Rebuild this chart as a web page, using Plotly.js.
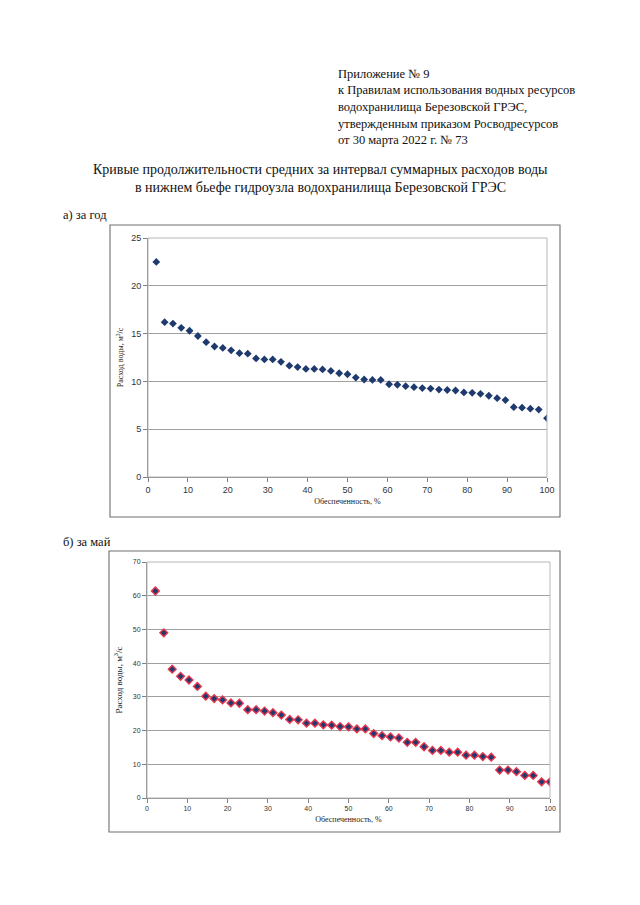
<!DOCTYPE html>
<html>
<head>
<meta charset="utf-8">
<script src="https://cdn.plot.ly/plotly-3.0.1.min.js"></script>
<style>
html,body{margin:0;padding:0;background:#fff;}
#chart{width:640px;height:905px;}
</style>
</head>
<body>
<div id="chart"></div>
<script>
// Обеспеченность, % (48 членов ряда)
const probability = [2.08, 4.17, 6.25, 8.33, 10.42, 12.5, 14.58, 16.67, 18.75, 20.83, 22.92, 25.0,
  27.08, 29.17, 31.25, 33.33, 35.42, 37.5, 39.58, 41.67, 43.75, 45.83, 47.92, 50.0,
  52.08, 54.17, 56.25, 58.33, 60.42, 62.5, 64.58, 66.67, 68.75, 70.83, 72.92, 75.0,
  77.08, 79.17, 81.25, 83.33, 85.42, 87.5, 89.58, 91.67, 93.75, 95.83, 97.92, 100.0];

// а) за год, м3/с
const flowYear = [22.5, 16.2, 16.05, 15.6, 15.3, 14.75, 14.1, 13.65, 13.5, 13.25, 12.95, 12.9,
  12.4, 12.3, 12.3, 12.05, 11.65, 11.5, 11.3, 11.3, 11.25, 11.1, 10.85, 10.75,
  10.4, 10.2, 10.15, 10.15, 9.7, 9.65, 9.5, 9.4, 9.3, 9.25, 9.15, 9.1,
  9.05, 8.85, 8.8, 8.7, 8.5, 8.25, 8.05, 7.3, 7.25, 7.15, 7.05, 6.15];

// б) за май, м3/с
const flowMay = [61.4, 49.0, 38.2, 36.1, 35.0, 33.1, 30.2, 29.5, 29.1, 28.2, 28.1, 26.2,
  26.2, 25.8, 25.3, 24.6, 23.3, 23.2, 22.2, 22.2, 21.7, 21.6, 21.2, 21.1,
  20.5, 20.5, 19.1, 18.5, 18.1, 17.8, 16.5, 16.5, 15.2, 14.1, 14.1, 13.6,
  13.6, 12.7, 12.7, 12.3, 12.1, 8.3, 8.3, 7.8, 6.7, 6.7, 4.8, 4.8];

const headerLines = [
  "Приложение № 9",
  "к Правилам использования водных ресурсов",
  "водохранилища Березовской ГРЭС,",
  "утвержденным приказом Росводресурсов",
  "от 30 марта 2022 г. № 73"
];
const titleLines = [
  "Кривые продолжительности средних за интервал суммарных расходов воды",
  "в нижнем бьефе гидроузла водохранилища Березовской ГРЭС"
];
const labelA = "а) за год";
const labelB = "б) за май";
const xTitle = "Обеспеченность, %";
const yTitle = "Расход воды, м<sup>3</sup>/с";

const W = 640, H = 905;
const px = x => x / W;
const py = y => 1 - y / H;

const serif = "Liberation Serif, Times New Roman, serif";
const sans = "Liberation Sans, Arial, sans-serif";

const traces = [
  {
    x: probability, y: flowYear, type: 'scatter', mode: 'markers',
    xaxis: 'x', yaxis: 'y',
    marker: {symbol: 'diamond', size: 6, color: '#1f3a6e', line: {width: 0}},
    hoverinfo: 'x+y'
  },
  {
    x: probability, y: flowMay, type: 'scatter', mode: 'markers',
    xaxis: 'x2', yaxis: 'y2',
    marker: {symbol: 'diamond', size: 6, color: '#1f3a6e', line: {width: 1.4, color: '#e8364e'}},
    hoverinfo: 'x+y'
  }
];

const annotations = [];
headerLines.forEach((t, i) => {
  annotations.push({text: t, xref: 'paper', yref: 'paper', x: px(336), y: py(74 + i * 16.5),
    xanchor: 'left', yanchor: 'middle', showarrow: false, font: {family: serif, size: 12.5, color: '#111'}});
});
titleLines.forEach((t, i) => {
  annotations.push({text: t, xref: 'paper', yref: 'paper', x: px(320), y: py(170 + i * 18),
    xanchor: 'center', yanchor: 'middle', showarrow: false, font: {family: serif, size: 14, color: '#111'}});
});
annotations.push({text: labelA, xref: 'paper', yref: 'paper', x: px(61), y: py(215),
  xanchor: 'left', yanchor: 'middle', showarrow: false, font: {family: serif, size: 12.5, color: '#111'}});
annotations.push({text: labelB, xref: 'paper', yref: 'paper', x: px(61), y: py(542),
  xanchor: 'left', yanchor: 'middle', showarrow: false, font: {family: serif, size: 12.5, color: '#111'}});

const shapes = [
  // outer chart frames
  {type: 'rect', xref: 'paper', yref: 'paper', x0: px(110), x1: px(560), y0: py(517), y1: py(225),
    line: {color: '#6e6e6e', width: 1.1}},
  {type: 'rect', xref: 'paper', yref: 'paper', x0: px(109), x1: px(560), y0: py(832), y1: py(551),
    line: {color: '#6e6e6e', width: 1.1}},
  // plot-area borders
  {type: 'rect', xref: 'x domain', yref: 'y domain', x0: 0, x1: 1, y0: 0, y1: 1,
    line: {color: '#b8b8b8', width: 1}},
  {type: 'rect', xref: 'x2 domain', yref: 'y2 domain', x0: 0, x1: 1, y0: 0, y1: 1,
    line: {color: '#b8b8b8', width: 1}}
];

const axisCommon = {
  showline: true, linecolor: '#808080', linewidth: 1,
  ticks: 'outside', ticklen: 4, tickcolor: '#808080',
  zeroline: false, fixedrange: true
};

const layout = {
  width: W, height: H,
  margin: {l: 0, r: 0, t: 0, b: 0},
  paper_bgcolor: '#fff', plot_bgcolor: '#fff',
  showlegend: false,
  font: {family: serif, color: '#111'},
  xaxis: Object.assign({}, axisCommon, {
    domain: [px(148), px(547)], anchor: 'y', range: [0, 100], dtick: 10,
    showgrid: false, tickfont: {family: sans, size: 9, color: '#333'},
    title: {text: xTitle, font: {family: serif, size: 8, color: '#222'}, standoff: 4}
  }),
  yaxis: Object.assign({}, axisCommon, {
    domain: [py(477), py(238)], anchor: 'x', range: [0, 25], dtick: 5,
    showgrid: true, gridcolor: '#a0a0a0', gridwidth: 1,
    tickfont: {family: sans, size: 9, color: '#333'},
    title: {text: yTitle, font: {family: serif, size: 8, color: '#222'}, standoff: 6}
  }),
  xaxis2: Object.assign({}, axisCommon, {
    domain: [px(147), px(550)], anchor: 'y2', range: [0, 100], dtick: 10,
    showgrid: false, tickfont: {family: sans, size: 7, color: '#333'},
    title: {text: xTitle, font: {family: serif, size: 8, color: '#222'}, standoff: 4}
  }),
  yaxis2: Object.assign({}, axisCommon, {
    domain: [py(798), py(562)], anchor: 'x2', range: [0, 70], dtick: 10,
    showgrid: true, gridcolor: '#a0a0a0', gridwidth: 1,
    tickfont: {family: sans, size: 7, color: '#333'},
    title: {text: yTitle, font: {family: serif, size: 9, color: '#222'}, standoff: 8}
  }),
  annotations: annotations,
  shapes: shapes
};

Plotly.newPlot('chart', traces, layout, {displayModeBar: false, staticPlot: true});
</script>
</body>
</html>
